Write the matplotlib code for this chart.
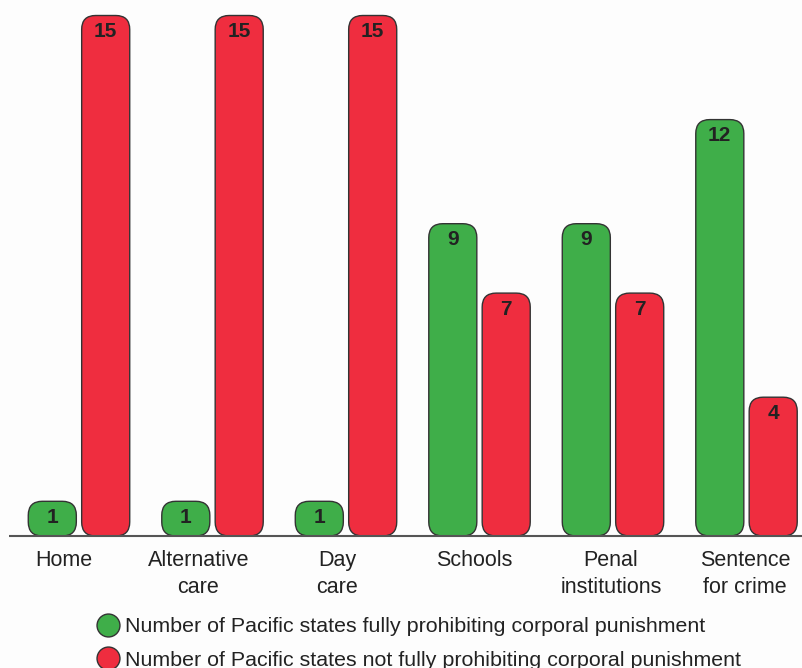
import matplotlib
matplotlib.use("Agg")
import matplotlib.pyplot as plt
import matplotlib.transforms as mtransforms
from matplotlib.patches import FancyBboxPatch
from matplotlib.lines import Line2D

categories = ["Home", "Alternative\ncare", "Day\ncare", "Schools", "Penal\ninstitutions", "Sentence\nfor crime"]
prohibiting = [1, 1, 1, 9, 9, 12]
not_prohibiting = [15, 15, 15, 7, 7, 4]
series_labels = ["Number of Pacific states fully prohibiting corporal punishment",
                 "Number of Pacific states not fully prohibiting corporal punishment"]

GREEN = "#3fae49"
RED = "#ef2d3f"
EDGE = "#333333"
TXT = "#222222"

plt.rcParams['font.family'] = ['Liberation Sans', 'DejaVu Sans']

W, H = 802, 668
fig = plt.figure(figsize=(W / 100, H / 100), dpi=100)
fig.patch.set_facecolor("#fdfdfd")

px_group = 133.5
px_unit = 34.7
base_px = 536
ax = fig.add_axes([0, (H - base_px) / H, 1, base_px / H])
ax.set_facecolor("none")
ax.set_xlim(-79 / px_group, (W - 79) / px_group)
ax.set_ylim(0, base_px / px_unit)
for s in ax.spines.values():
    s.set_visible(False)
ax.set_yticks([])

bw = 0.36
off = 0.2
r_x = 14 / px_group
aspect = px_group / px_unit

def rbar(xc, h, color):
    p = FancyBboxPatch((xc - bw / 2, 0), bw, h,
                       boxstyle=f"round,pad=0,rounding_size={r_x}",
                       mutation_aspect=aspect,
                       facecolor=color, edgecolor=EDGE, linewidth=1.0, zorder=3)
    ax.add_patch(p)
    ax.text(xc, h - 16 / px_unit, str(h), ha="center", va="center",
            fontsize=15, fontweight="bold", color=TXT, zorder=4)

for i, (g, r) in enumerate(zip(prohibiting, not_prohibiting)):
    rbar(i - off, g, GREEN)
    rbar(i + off, r, RED)

ax.plot([(9 - 79) / px_group, (W - 79) / px_group], [0, 0], color="#555555", lw=1.5,
        zorder=5, clip_on=False, solid_capstyle="butt")

ax.set_xticks(range(len(categories)))
ax.set_xticklabels(categories, fontsize=15.5, color=TXT, linespacing=1.4)
ax.tick_params(axis="x", length=0, pad=10)

# small horizontal nudges of the category labels (pixels)
label_shift_px = [-15, -14, -9, -5, -2, -1.5]
for lbl, dx in zip(ax.get_xticklabels(), label_shift_px):
    lbl.set_transform(lbl.get_transform() +
                      mtransforms.ScaledTranslation(dx / 100, 0, fig.dpi_scale_trans))

handles = [Line2D([], [], marker="o", linestyle="none", markersize=16.5,
                  markerfacecolor=GREEN, markeredgecolor=EDGE, markeredgewidth=1.0),
           Line2D([], [], marker="o", linestyle="none", markersize=16.5,
                  markerfacecolor=RED, markeredgecolor=EDGE, markeredgewidth=1.0)]
fig.legend(handles, series_labels, loc="upper left",
           bbox_to_anchor=(97 / W, 1 - 617 / H), frameon=False,
           fontsize=15.4, handlelength=1.0, handletextpad=0.3,
           labelspacing=0.68, borderpad=0, borderaxespad=0,
           labelcolor=TXT)

fig.savefig("out.png", dpi=100, facecolor=fig.get_facecolor())
